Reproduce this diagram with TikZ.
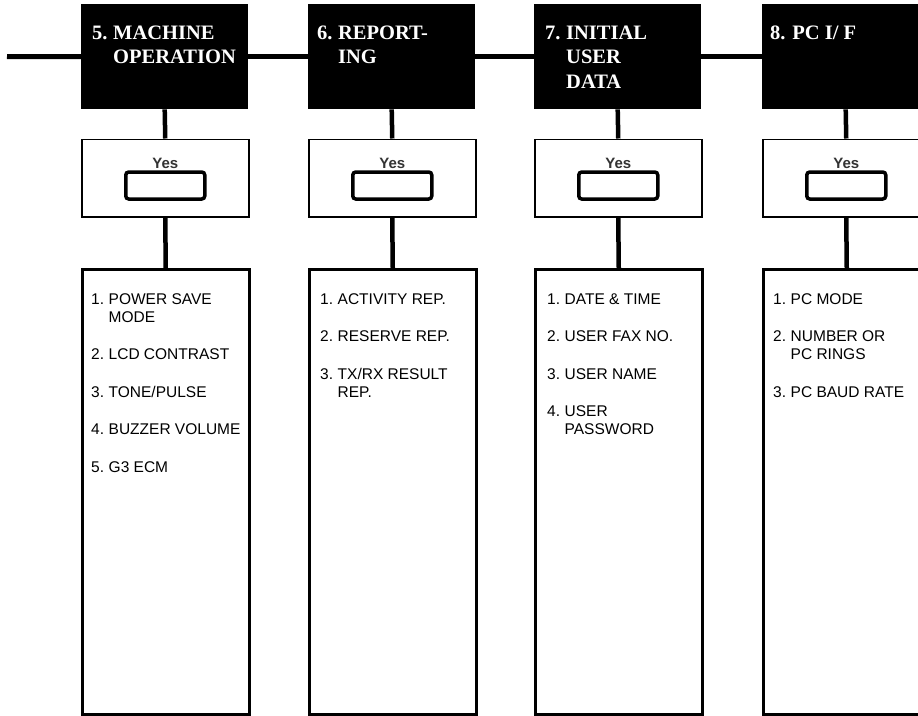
\documentclass[tikz,border=0pt]{standalone}
\usepackage{fontspec}
\setmainfont{Liberation Sans}
\newfontfamily\timesfont{Liberation Serif}
\definecolor{yesgray}{HTML}{333333}

% hanging-indent helpers for numbered entries
\newcommand\hnum[1]{\makebox[21pt][l]{#1}}
\newcommand\hcont{\hspace*{21pt}}
\newcommand\inum[1]{\makebox[17.5pt][l]{#1}}
\newcommand\icont{\hspace*{17.5pt}}

\tikzset{
  hdr/.style={fill=black, draw=none, minimum width=167, minimum height=105,
    inner sep=0, anchor=north west},
  hdrtext/.style={text=white, inner sep=0, anchor=base west,
    font=\timesfont\bfseries\fontsize{20.5}{24.5}\selectfont},
  yesbox/.style={draw=black, line width=1.5pt, fill=white, minimum width=167,
    minimum height=77.5, inner sep=0, anchor=north west},
  yeslabel/.style={text=yesgray, inner sep=0, anchor=base,
    font=\bfseries\fontsize{15}{18}\selectfont},
  button/.style={draw=black, line width=3.5pt, rounded corners=3pt,
    minimum width=79, minimum height=27, inner sep=0},
  listbox/.style={draw=black, line width=2.5pt, fill=white, minimum width=167,
    minimum height=445, inner sep=0, anchor=north west},
  listtext/.style={inner sep=0, anchor=base west,
    font=\fontsize{15.5}{18}\selectfont},
  mainline/.style={line width=5pt},
  conn/.style={line width=4.5pt},
}

\begin{document}
\begin{tikzpicture}[x=1pt, y=-1pt]
  \useasboundingbox (0,0) rectangle (918,715);
  \clip (0,0) rectangle (918,715);

  % column headers
  \node[hdr] (h5) at (81,4) {};
  \node[hdr] (h6) at (308,4) {};
  \node[hdr] (h7) at (534,4) {};
  \node[hdr] (h8) at (762,4) {};

  \node[hdrtext] (t5) at ([shift={(11,35)}]h5.north west)
    {\begin{tabular}[t]{@{}l@{}}\hnum{5.}MACHINE\\\hcont OPERATION\end{tabular}};
  \node[hdrtext] (t6) at ([shift={(9,35)}]h6.north west)
    {\begin{tabular}[t]{@{}l@{}}\hnum{6.}REPORT-\\\hcont ING\end{tabular}};
  \node[hdrtext] (t7) at ([shift={(11,35)}]h7.north west)
    {\begin{tabular}[t]{@{}l@{}}\hnum{7.}INITIAL\\\hcont USER\\\hcont DATA\end{tabular}};
  \node[hdrtext] (t8) at ([shift={(8,35)}]h8.north west)
    {\begin{tabular}[t]{@{}l@{}}8. PC I/ F\end{tabular}};

  % "Yes" selection boxes
  \foreach \c/\x in {5/81,6/308,7/534,8/762}{
    \node[yesbox] (y\c) at (\x,138.5) {};
    \node[yeslabel] (yl\c) at ([shift={(0,29.5)}]y\c.north) {Yes};
    \node[button] (b\c) at ([shift={(0,47)}]y\c.north) {};
    \node[listbox] (l\c) at (\x,268) {};
  }

  % item lists
  \node[listtext] (i5) at ([shift={(10,36)}]l5.north west)
    {\begin{tabular}[t]{@{}l@{}}
      \inum{1.}POWER SAVE\\\icont MODE\\[19.5pt]
      \inum{2.}LCD CONTRAST\\[19.5pt]
      \inum{3.}TONE/PULSE\\[19.5pt]
      \inum{4.}BUZZER VOLUME\\[19.5pt]
      \inum{5.}G3 ECM
    \end{tabular}};
  \node[listtext] (i6) at ([shift={(12,36)}]l6.north west)
    {\begin{tabular}[t]{@{}l@{}}
      \inum{1.}ACTIVITY REP.\\[19.5pt]
      \inum{2.}RESERVE REP.\\[19.5pt]
      \inum{3.}TX/RX RESULT\\\icont REP.
    \end{tabular}};
  \node[listtext] (i7) at ([shift={(13,36)}]l7.north west)
    {\begin{tabular}[t]{@{}l@{}}
      \inum{1.}DATE \& TIME\\[19.5pt]
      \inum{2.}USER FAX NO.\\[19.5pt]
      \inum{3.}USER NAME\\[19.5pt]
      \inum{4.}USER\\\icont PASSWORD
    \end{tabular}};
  \node[listtext] (i8) at ([shift={(11,36)}]l8.north west)
    {\begin{tabular}[t]{@{}l@{}}
      \inum{1.}PC MODE\\[19.5pt]
      \inum{2.}NUMBER OR\\\icont PC RINGS\\[19.5pt]
      \inum{3.}PC BAUD RATE
    \end{tabular}};

  % horizontal bus joining the headers
  \coordinate (busstart) at (7,56.5);
  \draw[mainline] (busstart) -- (h5.west);
  \draw[mainline] (h5.east) -- (h6.west);
  \draw[mainline] (h6.east) -- (h7.west);
  \draw[mainline] (h7.east) -- (h8.west);

  % vertical connectors
  \foreach \c in {5,6,7,8}{
    \draw[conn] (h\c.south) -- (y\c.north);
    \draw[conn] (y\c.south) -- (l\c.north);
  }
\end{tikzpicture}
\end{document}
